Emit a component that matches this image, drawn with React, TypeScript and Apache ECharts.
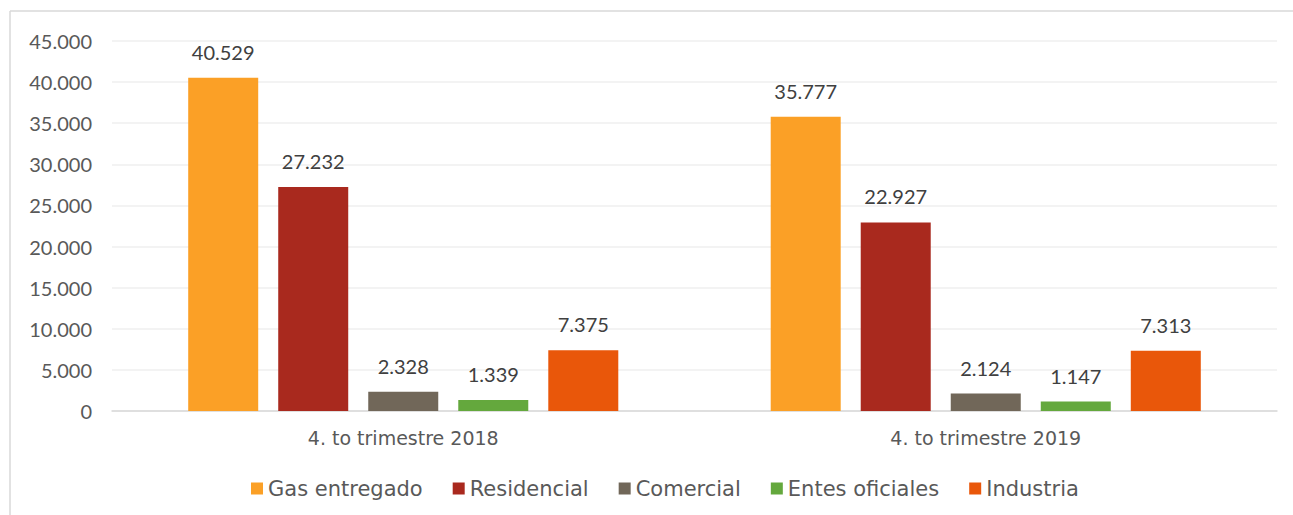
import React, { useEffect, useRef } from "react";
import * as echarts from "echarts";

const categories = ["4. to trimestre 2018", "4. to trimestre 2019"];
const seriesNames = ["Gas entregado", "Residencial", "Comercial", "Entes oficiales", "Industria"];
const gasEntregado = [40529, 35777];
const residencial = [27232, 22927];
const comercial = [2328, 2124];
const entesOficiales = [1339, 1147];
const industria = [7375, 7313];
const colors = ["#FBA026", "#A9291E", "#716759", "#64A83D", "#E9570A"];
const yTicks = { min: 0, max: 45000, interval: 5000 };

const fmt = (v: number) => {
  const s = Math.round(v).toString();
  return s.replace(/\B(?=(\d{3})+(?!\d))/g, ".");
};

const NUM_FONT = "Lato";
const TXT_FONT = "DejaVu Sans";

export default function App() {
  const ref = useRef<HTMLDivElement>(null);
  useEffect(() => {
    const chart = echarts.init(ref.current!, undefined, { renderer: "svg" });
    const all = [gasEntregado, residencial, comercial, entesOficiales, industria];
    chart.setOption({
      animation: false,
      textStyle: { fontFamily: NUM_FONT },
      graphic: [
        { type: "line", shape: { x1: 10, y1: 11, x2: 1293, y2: 11 }, style: { stroke: "#D9D9D9", lineWidth: 1.5 } },
        { type: "line", shape: { x1: 10, y1: 11, x2: 10, y2: 515 }, style: { stroke: "#D9D9D9", lineWidth: 1.5 } },
      ],
      grid: { left: 112, right: 16, top: 41, bottom: 104, containLabel: false },
      legend: {
        top: 478,
        left: 251,
        padding: 0,
        itemWidth: 12,
        itemHeight: 12,
        itemGap: 30,
        icon: "rect",
        textStyle: { color: "#595959", fontSize: 21, fontFamily: TXT_FONT },
        data: seriesNames,
      },
      xAxis: {
        type: "category",
        data: categories,
        axisLine: { lineStyle: { color: "#D9D9D9", width: 1.5 } },
        axisTick: { show: false },
        axisLabel: { color: "#595959", fontSize: 19, margin: 17, fontFamily: TXT_FONT },
      },
      yAxis: {
        type: "value",
        min: yTicks.min,
        max: yTicks.max,
        interval: yTicks.interval,
        axisLine: { show: false },
        axisTick: { show: false },
        splitLine: { lineStyle: { color: "#EFEFEF", width: 1.5 } },
        axisLabel: { color: "#595959", fontSize: 20, margin: 20, fontFamily: NUM_FONT, formatter: (v: number) => fmt(v) },
      },
      series: seriesNames.map((name, i) => ({
        name,
        type: "bar",
        data: all[i],
        barWidth: 70,
        barGap: "28.6%",
        barCategoryGap: "26.8%",
        itemStyle: { color: colors[i] },
        label: {
          show: true,
          position: "top",
          distance: 16,
          color: "#404040",
          fontSize: 20,
          fontFamily: NUM_FONT,
          formatter: (p: any) => fmt(p.value),
        },
      })),
    });
    return () => chart.dispose();
  }, []);
  return (
    <div
      ref={ref}
      style={{ position: "absolute", left: 0, top: 0, width: 1293, height: 515, background: "#fff" }}
    />
  );
}
